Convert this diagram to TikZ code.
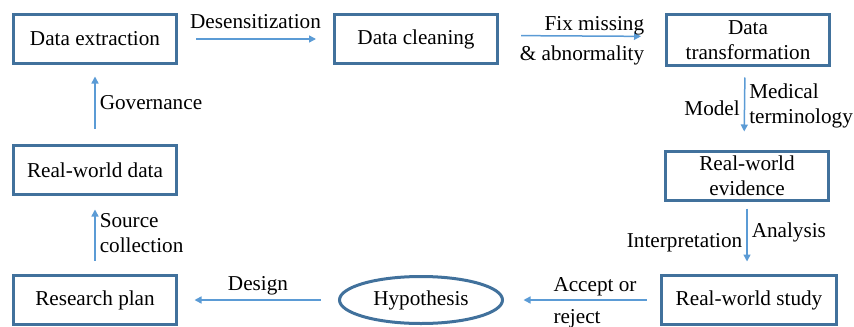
\documentclass[tikz,border=0pt]{standalone}
\usepackage{fontspec}
\setmainfont{Liberation Serif}
\usetikzlibrary{arrows.meta, shapes.geometric}
\definecolor{cBox}{HTML}{41719C}
\definecolor{cArrow}{HTML}{5B9BD5}
\tikzset{
  stagebox/.style={draw=cBox, line width=1.5pt, fill=white, align=center,
    minimum width=81.5pt, minimum height=24.5pt, inner sep=1pt},
  hypoellipse/.style={ellipse, draw=cBox, line width=1.5pt, fill=white,
    minimum width=81.5pt, minimum height=23.5pt, inner sep=1pt},
  flow/.style={-{Triangle[length=3.5pt, width=3.5pt]}, line width=0.75pt,
    draw=cArrow, shorten <=8pt, shorten >=8pt},
  steplabel/.style={inner sep=2pt, text=black},
}

\begin{document}
\begin{tikzpicture}[x=0.5pt, y=-0.5pt,
    font=\rmfamily\fontsize{10.6}{12.5}\selectfont]

  \useasboundingbox (0,0) rectangle (854,326);

  % ==================================================================
  % Top row: extraction -> cleaning -> transformation
  % ==================================================================
  \node[stagebox] (extract) at (95,39) {Data extraction};
  \node[stagebox] (clean) at (416,39) {Data cleaning};
  \node[stagebox, minimum height=25.5pt] (transform) at (748,40)
    {Data\\ transformation};

  % ==================================================================
  % Right column and bottom row
  % ==================================================================
  \node[stagebox] (evidence) at (747,176) {Real-world\\ evidence};
  \node[stagebox, minimum width=87.5pt] (study) at (749,300) {Real-world study};
  \node[hypoellipse] (hypo) at (421,300) {Hypothesis};
  \node[stagebox] (plan) at (95,300) {Research plan};
  \node[stagebox] (rwdata) at (95,170) {Real-world data};

  % ----------------------------------------------------------------
  % Arrows
  % ----------------------------------------------------------------
  \draw[flow, shorten <=9pt, shorten >=8.5pt] (extract) -- (clean)
    node[steplabel, midway, above=3pt] (lblDesens) {Desensitization};

  \draw[flow, shorten <=11pt, shorten >=12pt]
    ([yshift=1.75pt]clean.east) -- ([yshift=1.75pt]transform.west)
    node[steplabel, midway, align=right, yshift=-2.5pt] (lblFix)
      {Fix missing\\[2.5pt] \& abnormality};

  \draw[flow, shorten <=5.25pt, shorten >=9.25pt]
    ([xshift=-1.5pt]transform.south) -- ([xshift=-1.5pt]evidence.north)
    node[steplabel, midway, left] (lblModel) {Model}
    node[steplabel, midway, right, align=left, yshift=1.5pt] (lblMedical)
      {Medical\\ terminology};

  \draw[flow, shorten <=3.25pt, shorten >=6.25pt]
    (evidence.south) -- (evidence.south |- study.north)
    node[steplabel, midway, right, yshift=3pt] (lblAnalysis) {Analysis}
    node[steplabel, midway, left, yshift=-2.5pt] (lblInterp) {Interpretation};

  \draw[flow, shorten <=6.75pt, shorten >=9.75pt] (study) -- (hypo)
    node[steplabel, midway, align=left, xshift=6.5pt, yshift=-1.5pt] (lblAccept)
      {Accept or\\[3.5pt] reject};

  \draw[flow, shorten <=8.75pt, shorten >=8.25pt] (hypo) -- (plan)
    node[steplabel, midway, above=0pt] (lblDesign) {Design};

  \draw[flow, shorten <=6.75pt, shorten >=6.75pt] (plan) -- (rwdata)
    node[steplabel, midway, right, align=left, yshift=1pt] (lblSource)
      {Source\\ collection};

  \draw[flow, shorten <=7.75pt, shorten >=5.75pt] (rwdata) -- (extract)
    node[steplabel, midway, right, yshift=1pt] (lblGov) {Governance};

\end{tikzpicture}
\end{document}
